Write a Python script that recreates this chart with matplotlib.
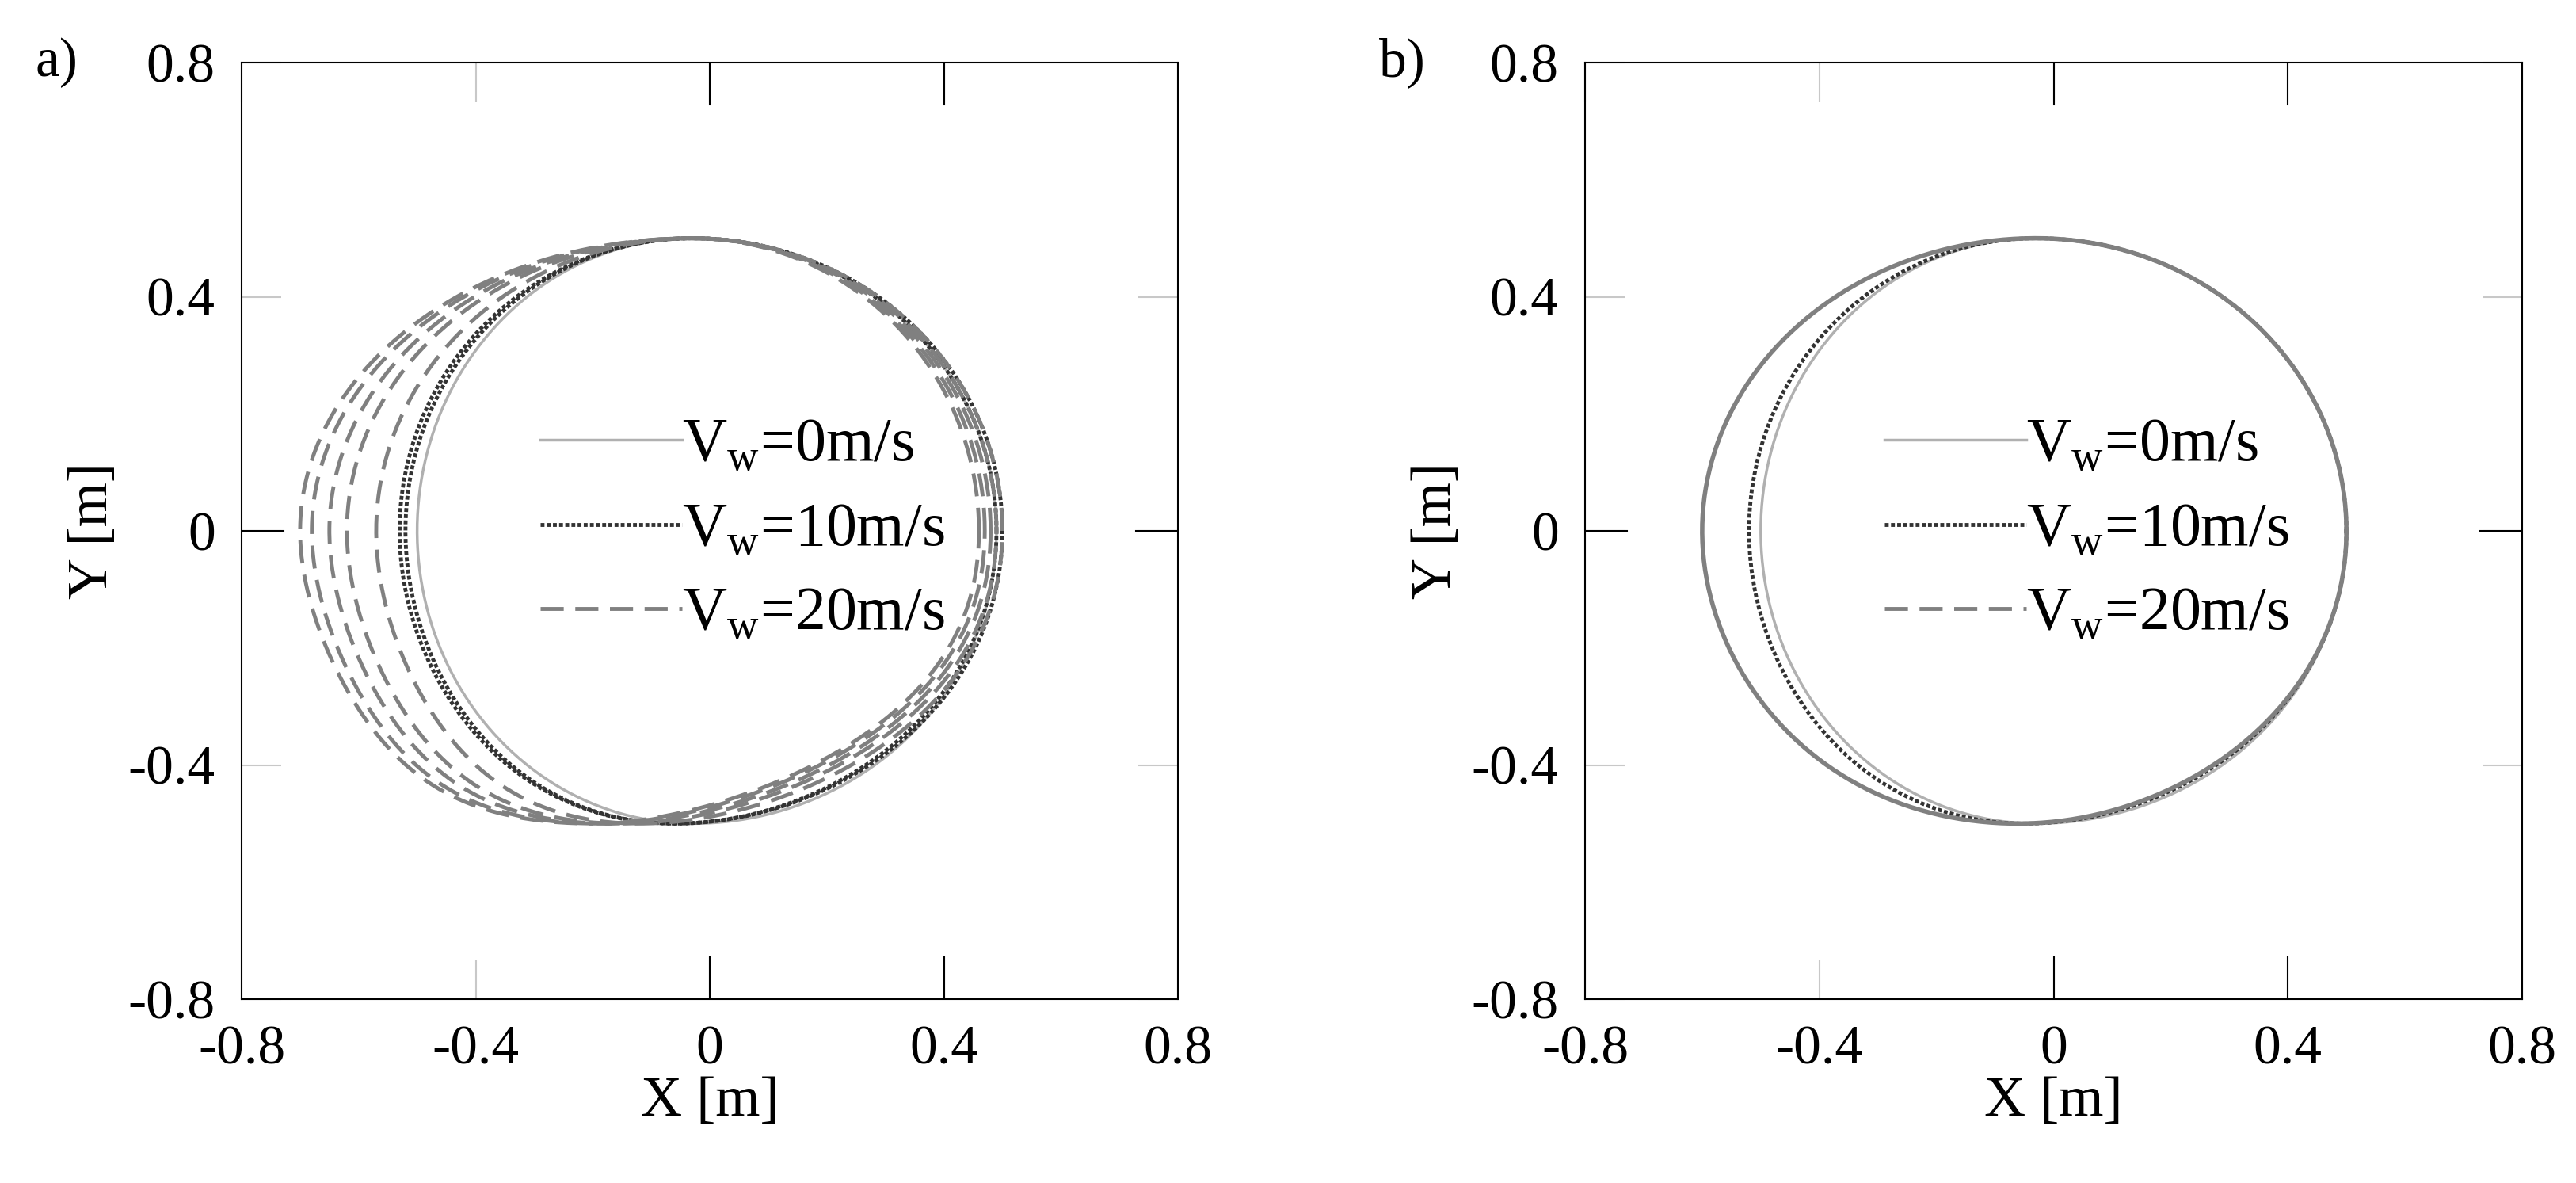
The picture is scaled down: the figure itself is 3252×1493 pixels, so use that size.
import numpy as np
import matplotlib.pyplot as plt

plt.rcParams['font.family'] = ['Liberation Serif', 'DejaVu Serif']

# trajectory parameters: left extent, right extent, bottom x shift
# panel a) several loops per wind speed (transient), panel b) converged
a_v0_left = [-0.50]
a_v0_right = [0.49]
a_v10_left = [-0.52, -0.53]
a_v10_right = [0.50, 0.49]
a_v20_left = [-0.57, -0.62, -0.65, -0.68, -0.70]
a_v20_right = [0.50, 0.49, 0.48, 0.47, 0.46]
a_v20_bottom = [-0.12, -0.15, -0.17, -0.19, -0.20]

b_v0_left = [-0.50]
b_v10_left = [-0.52]
b_v20_left = [-0.60]
b_right = [0.50]

top_x = -0.03
legend_labels = ['V$_\\mathregular{w}$=0m/s', 'V$_\\mathregular{w}$=10m/s', 'V$_\\mathregular{w}$=20m/s']
ticks = [-0.8, -0.4, 0, 0.4, 0.8]
tick_labels = ['-0.8', '-0.4', '0', '0.4', '0.8']


def loop(left, right, bottom=-0.06):
    th = np.linspace(0, 2 * np.pi, 400)
    c = np.cos(th)
    s = np.sin(th)
    x = top_x + np.where(c < 0, (top_x - left) * c, (right - top_x) * c)
    x = x + (bottom - top_x) * np.clip(-s, 0, 1) ** 3
    return x, 0.5 * s


fig = plt.figure(figsize=(32.52, 14.93), dpi=100)
ax_a = fig.add_axes([305 / 3252, 1 - 1261 / 1493, 1182 / 3252, 1182 / 1493])
ax_b = fig.add_axes([2001 / 3252, 1 - 1261 / 1493, 1183 / 3252, 1182 / 1493])

solid_kw = dict(color='#b0b0b0', lw=2.5, ls='-')
dot_kw = dict(color='#333333', lw=3.5, ls=(0, (1, 0.6)))
dash_kw = dict(color='#808080', lw=3.5, ls=(0, (6, 3)))

# panel a
for l, r in zip(a_v0_left, a_v0_right):
    ax_a.plot(*loop(l, r, -0.03), **solid_kw)
for l, r in zip(a_v10_left, a_v10_right):
    ax_a.plot(*loop(l, r, -0.06), **dot_kw)
for l, r, b in zip(a_v20_left, a_v20_right, a_v20_bottom):
    ax_a.plot(*loop(l, r, b), **dash_kw)

# panel b
ax_b.plot(*loop(b_v0_left[0], b_right[0], -0.03), **solid_kw)
ax_b.plot(*loop(b_v10_left[0], b_right[0], -0.05), **dot_kw)
ax_b.plot(*loop(b_v20_left[0], b_right[0], -0.06), color='#808080', lw=4)

for ax, tag in [(ax_a, 'a)'), (ax_b, 'b)')]:
    ax.set_xlim(-0.8, 0.8)
    ax.set_ylim(-0.8, 0.8)
    ax.set_xticks(ticks, tick_labels)
    ax.set_yticks(ticks, tick_labels)
    ax.tick_params(direction='in', length=36, width=1.5, color='#c8c8c8',
                   labelsize=50, pad=24, top=True, right=True)
    ax.axhline(0, xmin=0, xmax=0.045, color='black', lw=1.5)
    ax.axhline(0, xmin=0.955, xmax=1, color='black', lw=1.5)
    ax.axvline(0, ymin=0, ymax=0.045, color='black', lw=1.5)
    ax.axvline(0, ymin=0.955, ymax=1, color='black', lw=1.5)
    ax.axvline(0.4, ymin=0, ymax=0.045, color='black', lw=1.5)
    ax.axvline(0.4, ymin=0.955, ymax=1, color='black', lw=1.5)
    for sp in ax.spines.values():
        sp.set_linewidth(1.5)
    ax.set_xlabel('X [m]', fontsize=52, labelpad=0)
    ax.set_ylabel('Y [m]', fontsize=52, labelpad=8)
    ax.text(-0.22, 1.0, tag, transform=ax.transAxes, fontsize=50, va='center')
    handles = [plt.Line2D([], [], **solid_kw), plt.Line2D([], [], **dot_kw),
               plt.Line2D([], [], **dash_kw)]
    ax.legend(handles, legend_labels, loc='center', bbox_to_anchor=(0.535, 0.5),
              frameon=False, fontsize=56, handlelength=2.3, handletextpad=0,
              labelspacing=0.45)

fig.savefig('out.png', dpi=100)
